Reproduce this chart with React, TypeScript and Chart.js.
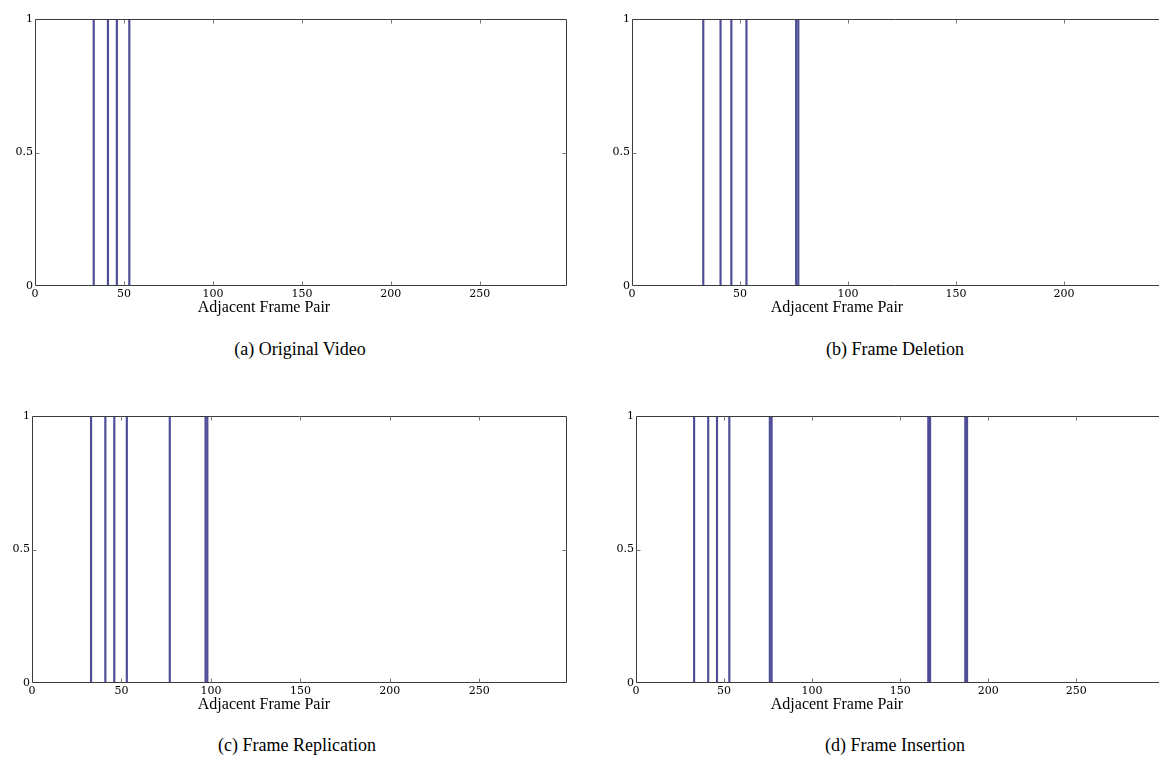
import React, { useEffect, useRef } from 'react';
import { Chart, registerables } from 'chart.js';

Chart.register(...registerables);

// ---- data ----
const spikesA = [33, 41, 46, 53];
const spikesB = [33, 41, 46, 53, 76, 77];
const spikesC = [33, 41, 46, 53, 77, 97, 98];
const spikesD = [33, 41, 46, 53, 76, 77, 166, 167, 187, 188];
const spikeValue = 1;
const xTicksFull = [0, 50, 100, 150, 200, 250];
const xTicksB = [0, 50, 100, 150, 200];
const yTicks = [0, 0.5, 1];
const xMaxA = 299;
const xMaxB = 244;
const xMaxC = 299;
const xMaxD = 297;
const xLabel = 'Adjacent Frame Pair';
const captions = ['(a) Original Video', '(b) Frame Deletion', '(c) Frame Replication', '(d) Frame Insertion'];

const SERIF = "'Liberation Serif', 'DejaVu Serif', serif";
const TICK_FONT = "'DejaVu Serif', 'Liberation Serif', serif";

const boxPlugin = {
  id: 'box',
  afterDraw(chart: any, _args: any, opts: any) {
    const { ctx, chartArea } = chart;
    const { left, right, top, bottom } = chartArea;
    const xs = chart.scales.x;
    const ys = chart.scales.y;
    ctx.save();
    ctx.strokeStyle = '#3a3a3a';
    ctx.lineWidth = 1;
    const L = Math.round(left) + 0.5;
    const R = Math.round(right) - 0.5;
    const T = Math.round(top) + 0.5;
    const B = Math.round(bottom) - 0.5;
    ctx.beginPath();
    ctx.moveTo(L, T);
    ctx.lineTo(opts.right ? R : right, T);
    ctx.moveTo(L, T);
    ctx.lineTo(L, B);
    ctx.lineTo(opts.right ? R : right, B);
    if (opts.right) {
      ctx.moveTo(R, T);
      ctx.lineTo(R, B);
    }
    ctx.stroke();
    ctx.strokeStyle = '#777';
    ctx.beginPath();
    const tl = 4;
    for (const t of xs.ticks) {
      const px = Math.round(xs.getPixelForValue(t.value)) + 0.5;
      if (px <= L + 1 || px >= right - 1) continue;
      ctx.moveTo(px, B);
      ctx.lineTo(px, B - tl);
      ctx.moveTo(px, T);
      ctx.lineTo(px, T + tl);
    }
    for (const t of ys.ticks) {
      const py = Math.round(ys.getPixelForValue(t.value)) + 0.5;
      if (py <= T + 1 || py >= B - 1) continue;
      ctx.moveTo(L, py);
      ctx.lineTo(L + tl, py);
      if (opts.right) {
        ctx.moveTo(R, py);
        ctx.lineTo(R - tl, py);
      }
    }
    ctx.stroke();
    ctx.restore();
  },
};

type PanelProps = {
  spikes: number[];
  xMax: number;
  xTicks: number[];
  area: { l: number; t: number; r: number; b: number };
  drawRight: boolean;
};

const LEFT_PAD = 40;
const TOP_PAD = 10;
const BOTTOM_PAD = 30;

function Panel({ spikes, xMax, xTicks, area, drawRight }: PanelProps) {
  const ref = useRef<HTMLCanvasElement | null>(null);
  const rightPad = drawRight ? 12 : 0;
  const width = area.r - area.l + LEFT_PAD + rightPad;
  const height = TOP_PAD + (area.b - area.t) + BOTTOM_PAD;

  useEffect(() => {
    if (!ref.current) return;
    const chart = new Chart(ref.current, {
      type: 'bar',
      data: {
        datasets: [
          {
            data: spikes.map((x) => ({ x, y: spikeValue })),
            backgroundColor: '#4d4d98',
            borderWidth: 0,
            barThickness: 1.5,
          } as any,
        ],
      },
      options: {
        responsive: false,
        animation: false,
        devicePixelRatio: 1,
        layout: { padding: { left: 0, top: TOP_PAD, right: rightPad, bottom: 0 } },
        plugins: {
          legend: { display: false },
          tooltip: { enabled: false },
          box: { right: drawRight },
        } as any,
        scales: {
          x: {
            type: 'linear',
            min: 0,
            max: xMax,
            offset: false,
            grid: { display: false, drawTicks: false },
            border: { display: false },
            ticks: {
              font: { family: TICK_FONT, size: 11 },
              color: '#000',
              padding: 2,
              maxRotation: 0,
              autoSkip: false,
            },
            afterBuildTicks: (s: any) => {
              s.ticks = xTicks.map((v) => ({ value: v }));
            },
            afterFit: (s: any) => {
              s.height = BOTTOM_PAD;
            },
          },
          y: {
            type: 'linear',
            min: 0,
            max: 1,
            grid: { display: false, drawTicks: false },
            border: { display: false },
            ticks: {
              font: { family: TICK_FONT, size: 11 },
              color: '#000',
              padding: 2,
              callback: (v: any) => String(v),
            },
            afterBuildTicks: (s: any) => {
              s.ticks = yTicks.map((v) => ({ value: v }));
            },
            afterFit: (s: any) => {
              s.width = LEFT_PAD;
            },
          },
        } as any,
      },
      plugins: [boxPlugin],
    });
    return () => chart.destroy();
  }, []);

  return (
    <canvas
      ref={ref}
      width={width}
      height={height}
      style={{
        position: 'absolute',
        left: area.l - LEFT_PAD,
        top: area.t - TOP_PAD,
        width,
        height,
      }}
    />
  );
}

function Text({ x, y, size, children }: { x: number; y: number; size: number; children: React.ReactNode }) {
  return (
    <div
      style={{
        position: 'absolute',
        left: x,
        top: y,
        transform: 'translate(-50%, -50%)',
        fontFamily: SERIF,
        fontSize: size,
        color: '#000',
        whiteSpace: 'nowrap',
        lineHeight: 1,
      }}
    >
      {children}
    </div>
  );
}

export default function App() {
  return (
    <div
      style={{
        position: 'fixed',
        left: 0,
        top: 0,
        width: 1159,
        height: 772,
        overflow: 'hidden',
        background: '#fff',
      }}
    >
      <Panel spikes={spikesA} xMax={xMaxA} xTicks={xTicksFull} area={{ l: 35, t: 19, r: 567, b: 286 }} drawRight={true} />
      <Panel spikes={spikesB} xMax={xMaxB} xTicks={xTicksB} area={{ l: 632, t: 19, r: 1159, b: 286 }} drawRight={false} />
      <Panel spikes={spikesC} xMax={xMaxC} xTicks={xTicksFull} area={{ l: 32, t: 416, r: 567, b: 683 }} drawRight={true} />
      <Panel spikes={spikesD} xMax={xMaxD} xTicks={xTicksFull} area={{ l: 636, t: 416, r: 1159, b: 683 }} drawRight={false} />
      <Text x={264} y={307} size={16}>{xLabel}</Text>
      <Text x={837} y={307} size={16}>{xLabel}</Text>
      <Text x={264} y={704} size={16}>{xLabel}</Text>
      <Text x={837} y={704} size={16}>{xLabel}</Text>
      <Text x={300} y={349} size={18}>{captions[0]}</Text>
      <Text x={895} y={349} size={18}>{captions[1]}</Text>
      <Text x={297} y={745} size={18}>{captions[2]}</Text>
      <Text x={895} y={745} size={18}>{captions[3]}</Text>
    </div>
  );
}
